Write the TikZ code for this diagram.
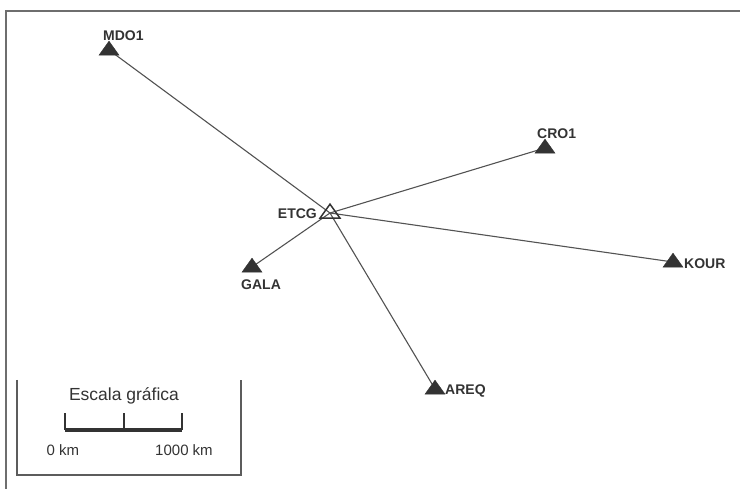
\documentclass[tikz,border=0pt]{standalone}
\usepackage{fontspec}
\setmainfont{Liberation Sans}
\usetikzlibrary{shapes.geometric,backgrounds}
\definecolor{ink}{HTML}{333333}
\definecolor{rule}{HTML}{6E6E6E}
\tikzset{
  station/.style={isosceles triangle, shape border rotate=90,
    isosceles triangle stretches, minimum width=20pt, minimum height=14pt,
    inner sep=0pt, fill=ink, draw=ink},
  refstation/.style={station, fill=none, draw=ink, line width=1.5pt},
  baseline/.style={draw=ink!85, line width=1.1pt},
  lbl/.style={font=\fontsize{14}{14}\selectfont\bfseries, text=ink, inner sep=0pt},
  scaletext/.style={font=\fontsize{17.5}{17.5}\selectfont, text=ink, inner sep=0pt},
  kmtext/.style={font=\fontsize{15}{15}\selectfont, text=ink, inner sep=0pt, anchor=base},
  frame/.style={draw=rule, line width=2pt},
  scalebox/.style={draw=ink!80, line width=1.6pt}
}
\begin{document}
\begin{tikzpicture}[x=1pt,y=-1pt]
\useasboundingbox (0,0) rectangle (740,489);
% outer frame (top and left edges only)
\draw[frame] (6,489) -- (6,11) -- (740,11);

% GPS stations
\node[station] (mdo1) at (109,50) {};
\node[station] (cro1) at (545,148) {};
\node[station] (gala) at (252,267) {};
\node[station] (kour) at (673,262) {};
\node[station] (areq) at (435,389) {};
\node[refstation] (etcg) at (330,213) {};

% station names
\node[lbl, anchor=base west] (tmdo1) at (103,41) {MDO1};
\node[lbl, anchor=base west] (tcro1) at (537,139) {CRO1};
\node[lbl, anchor=base west] (tgala) at (241,290) {GALA};
\node[lbl, anchor=base west] (tkour) at (684,269) {KOUR};
\node[lbl, anchor=base west] (tareq) at (445,395) {AREQ};
\node[lbl, anchor=base east] (tetcg) at (317,219) {ETCG};

% baselines from the reference station
\begin{scope}[on background layer]
  \foreach \s in {mdo1,cro1,gala,kour,areq}
    \draw[baseline] (etcg.center) -- (\s.center);
\end{scope}

% graphic scale
\draw[scalebox] (17,380) -- (17,475) -- (241,475) -- (241,380);
\node[scaletext] (sctitle) at (124,396) {Escala gráfica};
\coordinate (s0) at (65,430);
\coordinate (s1) at (124,430);
\coordinate (s2) at (182,430);
\draw[ink, line width=1.3pt] (s0) -- ++(0,-17) (s1) -- ++(0,-17) (s2) -- ++(0,-17);
\draw[ink, line width=4pt] (s0) -- (s2);
\node[kmtext] (sc0) at (63,455) {0 km};
\node[kmtext] (sc1) at (184,455) {1000 km};
\end{tikzpicture}
\end{document}
